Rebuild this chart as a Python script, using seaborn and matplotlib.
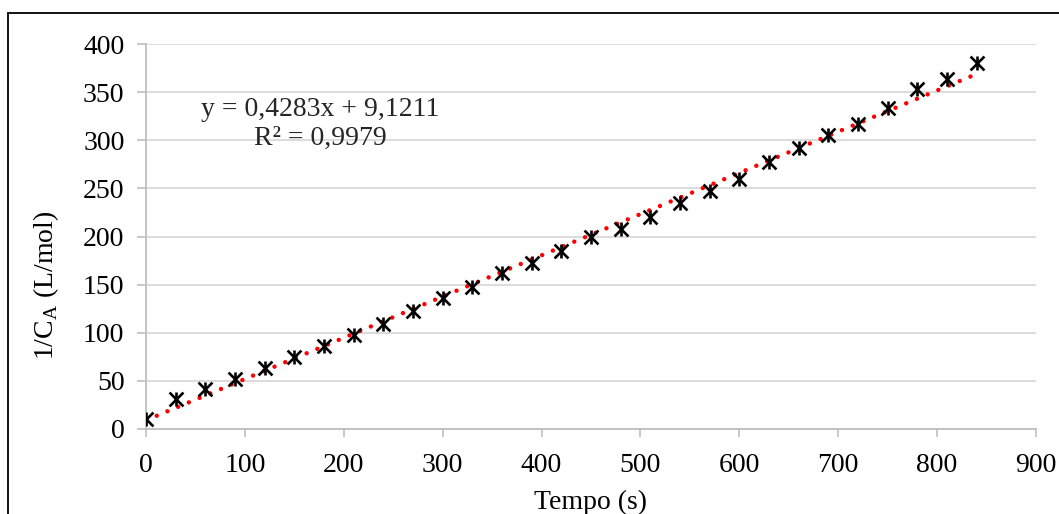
import matplotlib
matplotlib.use("Agg")
import matplotlib.pyplot as plt
import numpy as np
import pandas as pd
import seaborn as sns
from matplotlib.patches import Rectangle

# Measured data: time (s) and inverse concentration 1/C_A (L/mol)
tempo = [0, 30, 60, 90, 120, 150, 180, 210, 240, 270, 300, 330, 360, 390, 420,
         450, 480, 510, 540, 570, 600, 630, 660, 690, 720, 750, 780, 810, 840]
inv_ca = [10, 31, 41.5, 52, 63, 75, 86, 98, 109, 123, 136, 148, 162, 172, 185,
          199.5, 208, 220, 235, 247, 260, 277, 292, 305, 317, 333, 353, 364, 380]

# Linear trendline coefficients
slope = 0.4283
intercept = 9.1211
r2 = 0.9979

x_ticks = [0, 100, 200, 300, 400, 500, 600, 700, 800, 900]
y_ticks = [0, 50, 100, 150, 200, 250, 300, 350, 400]

df = pd.DataFrame({"t": tempo, "y": inv_ca})
fit_x = np.array([tempo[0], tempo[-1]], dtype=float)
fit = pd.DataFrame({"t": fit_x, "y": slope * fit_x + intercept})

sns.set_theme(style="white")
plt.rcParams["font.family"] = ["Liberation Serif", "DejaVu Serif"]
plt.rcParams["mathtext.fontset"] = "custom"
plt.rcParams["mathtext.rm"] = "Liberation Serif"

FS = 20

fig = plt.figure(figsize=(10.59, 5.14), dpi=100)
ax = fig.add_axes([146 / 1059, 1 - 429 / 514, 890 / 1059, 385 / 514])

sns.lineplot(data=fit, x="t", y="y", ax=ax, color="#ff0000", lw=3.2,
             linestyle=(0, (0.01, 2.6)), dash_capstyle="round", zorder=3)
sns.scatterplot(data=df, x="t", y="y", ax=ax, marker="x", s=100,
                color="black", linewidth=1.9, zorder=4)
sns.scatterplot(data=df, x="t", y="y", ax=ax, marker="|", s=100,
                color="black", linewidth=1.9, zorder=4)

ax.set_xlim(0, 900)
ax.set_ylim(0, 400)
ax.set_xticks(x_ticks)
ax.set_yticks(y_ticks)
ax.tick_params(axis="both", labelsize=FS, colors="#bfbfbf", labelcolor="black",
               width=1.2, direction="out", left=True, bottom=True)
ax.tick_params(axis="x", length=5.5, pad=12)
ax.tick_params(axis="y", length=6.5, pad=9)
ax.yaxis.grid(True, color="#d9d9d9", lw=1.3)
ax.xaxis.grid(False)
for side in ["top", "right"]:
    ax.spines[side].set_visible(False)
for side in ["left", "bottom"]:
    ax.spines[side].set_color("#bfbfbf")
    ax.spines[side].set_linewidth(1.3)

ax.set_xlabel("Tempo (s)", fontsize=FS, color="black", labelpad=8)
ax.set_ylabel(r"1/C$_\mathregular{A}$ (L/mol)", fontsize=FS, color="black")
ax.yaxis.set_label_coords(-0.096, 0.374)

ax.text(0.196, 0.792, f"y = {slope:.4f}x + {intercept:.4f}\nR² = {r2:.4f}".replace(".", ","),
        transform=ax.transAxes, ha="center", va="center", fontsize=FS,
        linespacing=1.2, zorder=5)

# Outer frame around the chart
fig.patches.append(Rectangle((8 / 1059, -0.2), 1.2, 1 - 13 / 514 + 0.2,
                             transform=fig.transFigure, fill=False,
                             edgecolor="black", lw=1.3, zorder=10))

fig.savefig("out.png", dpi=100)
